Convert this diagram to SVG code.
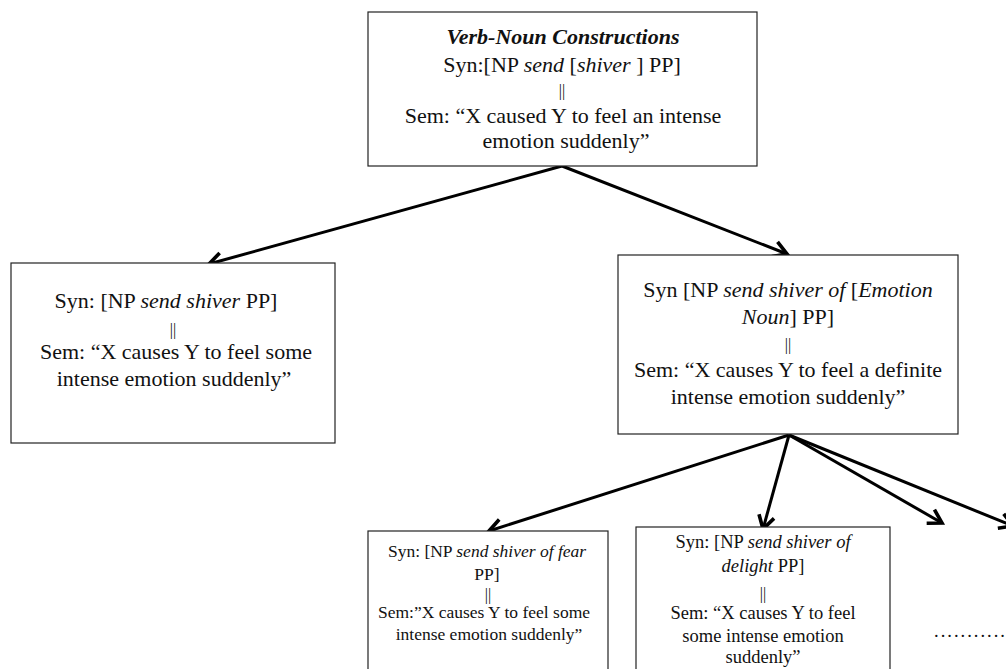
<svg xmlns="http://www.w3.org/2000/svg" width="1006" height="669" viewBox="0 0 1006 669">
  <style>
    .box { fill: #ffffff; stroke: #222222; stroke-width: 1.2; }
    .t { fill: #111111; text-anchor: middle; }
    .f20 { font-size: 22px; }
    .f18 { font-size: 18.5px; }
    .f16 { font-size: 17.5px; }
    .i { font-style: italic; }
    .bar { fill: #111111; text-anchor: middle; font-size: 16px; }
    .edge { fill: none; stroke: #000000; stroke-width: 3; }
  </style>
  <defs>
    <marker id="arrow" markerUnits="userSpaceOnUse" markerWidth="24" markerHeight="24" refX="0" refY="0" viewBox="-14 -10 18 20" orient="auto" overflow="visible">
      <path d="M -11 -6.5 L 0 0 L -11 6.5" fill="none" stroke="#000000" stroke-width="3" stroke-linejoin="miter"/>
    </marker>
  </defs>

  <rect width="1006" height="669" fill="#ffffff"/>

  <!-- connectors -->
  <g id="connectors" class="edge" marker-end="url(#arrow)">
    <line x1="562" y1="166" x2="209" y2="264"/>
    <line x1="562" y1="166" x2="787" y2="254"/>
    <line x1="789" y1="435" x2="489" y2="531"/>
    <line x1="789" y1="435" x2="763" y2="529"/>
    <line x1="789" y1="435" x2="942" y2="523"/>
    <line x1="789" y1="435" x2="1013" y2="526"/>
  </g>

  <g font-family="'Liberation Serif', 'Times New Roman', 'DejaVu Serif', serif">
    <!-- root construction -->
    <g id="node-root">
      <rect class="box" x="368" y="12" width="389" height="154"/>
      <text class="t f20" x="563" y="44" font-weight="bold" font-style="italic">Verb-Noun Constructions</text>
      <text class="t f20" x="562" y="72">Syn:[NP <tspan class="i">send</tspan> [<tspan class="i">shiver</tspan> ] PP]</text>
      <text class="bar" x="562" y="96">||</text>
      <text class="t f20" x="563" y="123">Sem: “X caused Y to feel an intense</text>
      <text class="t f20" x="566" y="148">emotion suddenly”</text>
    </g>

    <!-- general shiver construction -->
    <g id="node-shiver">
      <rect class="box" x="11" y="263" width="324" height="180"/>
      <text class="t f20" x="166" y="308">Syn: [NP <tspan class="i">send shiver</tspan>  PP]</text>
      <text class="bar" x="173" y="335">||</text>
      <text class="t f20" x="176" y="359" font-size="21.5">Sem: “X causes Y to feel some</text>
      <text class="t f20" x="174" y="386">intense emotion suddenly”</text>
    </g>

    <!-- shiver of [Emotion Noun] construction -->
    <g id="node-emotion">
      <rect class="box" x="618" y="255" width="340" height="179"/>
      <text class="t f20" x="788" y="297">Syn [NP <tspan class="i">send shiver of</tspan>  [<tspan class="i">Emotion</tspan></text>
      <text class="t f20" x="788" y="324"><tspan class="i">Noun</tspan>] PP]</text>
      <text class="bar" x="788" y="350" font-size="17">||</text>
      <text class="t f20" x="788" y="377">Sem: “X causes Y to feel a definite</text>
      <text class="t f20" x="788" y="404">intense emotion suddenly”</text>
    </g>

    <!-- shiver of fear -->
    <g id="node-fear">
      <rect class="box" x="368" y="531" width="240" height="150"/>
      <text class="t f16" x="487" y="557">Syn: [NP <tspan class="i">send shiver of fear</tspan></text>
      <text class="t f16" x="487" y="580">PP]</text>
      <text class="bar" x="488" y="600">||</text>
      <text class="t f16" x="484" y="618">Sem:”X causes Y to feel some</text>
      <text class="t f16" x="489" y="640">intense emotion suddenly”</text>
    </g>

    <!-- shiver of delight -->
    <g id="node-delight">
      <rect class="box" x="636" y="527" width="254" height="154"/>
      <text class="t f18" x="763" y="548">Syn: [NP <tspan class="i">send shiver of</tspan></text>
      <text class="t f18" x="763" y="572"><tspan class="i">delight</tspan>  PP]</text>
      <text class="bar" x="763" y="599" font-size="17">||</text>
      <text class="t f18" x="763" y="619">Sem: “X causes Y to feel</text>
      <text class="t f18" x="763" y="642">some intense emotion</text>
      <text class="t f18" x="763" y="663">suddenly”</text>
    </g>

    <!-- further constructions -->
    <g id="node-more">
      <text class="f18" x="934" y="637" fill="#111111" letter-spacing="2">...........</text>
    </g>
  </g>
</svg>
